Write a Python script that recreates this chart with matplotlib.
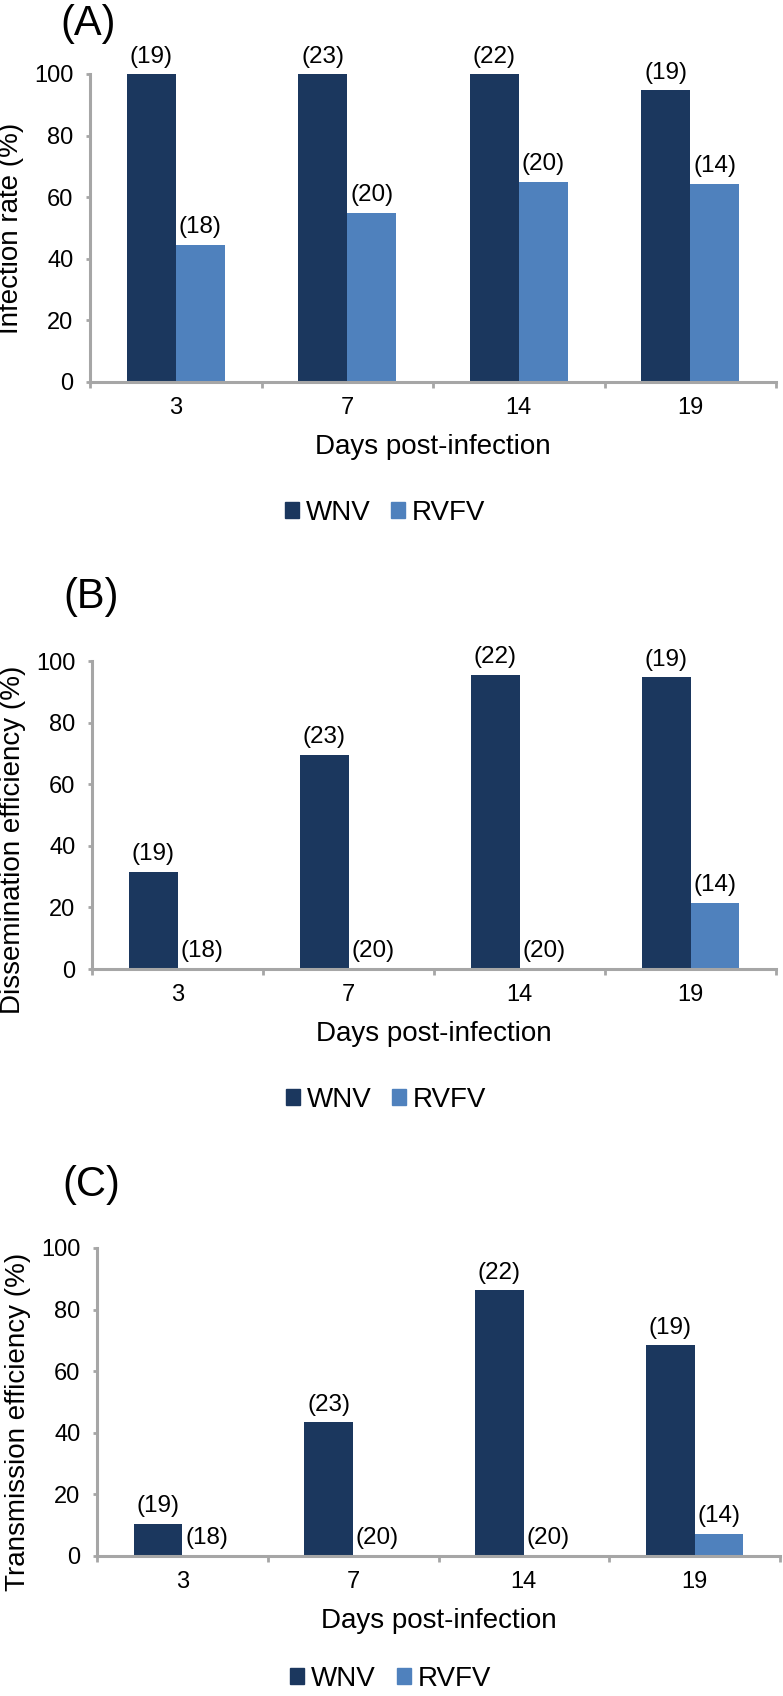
import matplotlib
matplotlib.use("Agg")
import matplotlib.pyplot as plt
from matplotlib.patches import Patch
import numpy as np

plt.rcParams['font.family'] = ['Liberation Sans', 'DejaVu Sans']

days = ["3", "7", "14", "19"]
n_wnv = [19, 23, 22, 19]
n_rvfv = [18, 20, 20, 14]

infection_wnv = [100.0, 100.0, 100.0, 94.7]
infection_rvfv = [44.4, 55.0, 65.0, 64.3]
dissem_wnv = [31.6, 69.6, 95.5, 94.7]
dissem_rvfv = [0.0, 0.0, 0.0, 21.4]
trans_wnv = [10.5, 43.5, 86.4, 68.4]
trans_rvfv = [0.0, 0.0, 0.0, 7.1]

panel_letters = ["(A)", "(B)", "(C)"]
ylabels = ["Infection rate (%)", "Dissemination efficiency (%)", "Transmission efficiency (%)"]
xlabel = "Days post-infection"
series_names = ["WNV", "RVFV"]

C_WNV = "#1B375E"
C_RVFV = "#4F81BD"
GRAY = "#A6A6A6"

W, H = 783, 1696
fig = plt.figure(figsize=(W / 100, H / 100), dpi=100)

# pixel boxes: left, right, top, bottom
boxes = [(90, 776, 74, 382), (92, 776, 661, 969), (97, 780, 1248, 1556)]
letter_pos = [(88, 24), (91, 597), (91, 1185)]
ylabel_y = [0.5, 0.42, 0.435]
legend_y = [-0.425, -0.425, -0.40]

data = [(infection_wnv, infection_rvfv), (dissem_wnv, dissem_rvfv), (trans_wnv, trans_rvfv)]

bw = 0.286
x = np.arange(len(days))

for i, (box, (wv, rv)) in enumerate(zip(boxes, data)):
    l, r, t, b = box
    ax = fig.add_axes([l / W, 1 - b / H, (r - l) / W, (b - t) / H])
    ax.bar(x - bw / 2, wv, width=bw, color=C_WNV, label=series_names[0], zorder=2)
    ax.bar(x + bw / 2, rv, width=bw, color=C_RVFV, label=series_names[1], zorder=2)
    for xi, v, n in zip(x, wv, n_wnv):
        ax.annotate(f"({n})", (xi - bw / 2, v), xytext=(0, 12.5), textcoords="offset points",
                    ha="center", va="center", fontsize=17.5, annotation_clip=False)
    for xi, v, n in zip(x, rv, n_rvfv):
        ax.annotate(f"({n})", (xi + bw / 2, v), xytext=(0, 13), textcoords="offset points",
                    ha="center", va="center", fontsize=17.5, annotation_clip=False)
    ax.set_xlim(-0.5, 3.5)
    ax.set_ylim(0, 100)
    ax.set_yticks(range(0, 101, 20))
    ax.set_xticks(x)
    ax.set_xticklabels(days)
    ax.set_xticks(np.arange(-0.5, 4.0, 1.0), minor=True)
    ax.tick_params(axis="x", which="major", length=0, pad=11, labelsize=17)
    ax.tick_params(axis="x", which="minor", length=4, width=2, color=GRAY, direction="out")
    ax.tick_params(axis="y", which="major", length=3, width=2, color=GRAY, pad=9, labelsize=17)
    for s in ["top", "right"]:
        ax.spines[s].set_visible(False)
    for s in ["left", "bottom"]:
        ax.spines[s].set_color(GRAY)
        ax.spines[s].set_linewidth(2.2)
    ax.set_ylabel(ylabels[i], fontsize=20)
    ax.yaxis.label.set_verticalalignment("center")
    ax.yaxis.set_label_coords(-0.115, ylabel_y[i])
    ax.set_xlabel(xlabel, fontsize=20)
    ax.xaxis.label.set_verticalalignment("center")
    ax.xaxis.set_label_coords(0.5, -65 / 308)
    handles = [Patch(color=C_WNV), Patch(color=C_RVFV)]
    ax.legend(handles, series_names, loc="center", bbox_to_anchor=(0.43, legend_y[i]), ncol=2,
              frameon=False, fontsize=20, handlelength=0.5, handleheight=0.5,
              handletextpad=0.25, columnspacing=0.75)
    lx, ly = letter_pos[i]
    fig.text(lx / W, 1 - ly / H, panel_letters[i], fontsize=30, ha="center", va="center")

fig.savefig("out.png", dpi=100)
